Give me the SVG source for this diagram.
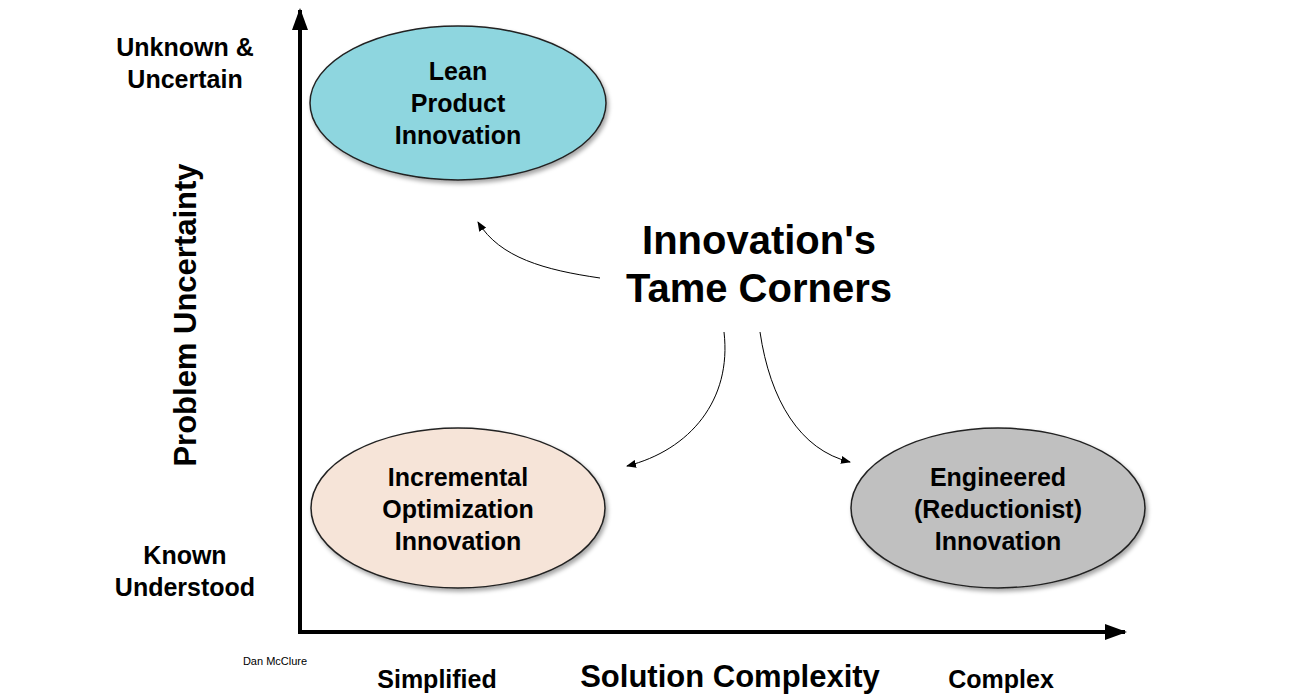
<svg xmlns="http://www.w3.org/2000/svg" width="1300" height="695" viewBox="0 0 1300 695">
<style>
text{font-family:"Liberation Sans",Arial,sans-serif;font-weight:bold;fill:#000;text-anchor:middle}
.n{font-size:25px}
.s{font-size:11px;font-weight:normal}
.e{stroke:#222;stroke-width:1.5}
.c{fill:none;stroke:#000;stroke-width:1}
</style>
<defs>
<marker id="ah" markerWidth="10" markerHeight="8" refX="9" refY="4" orient="auto" markerUnits="userSpaceOnUse"><path d="M0,0L10,4L0,8z" fill="#000"/></marker>
<marker id="big" markerWidth="22" markerHeight="16" refX="20" refY="8" orient="auto" markerUnits="userSpaceOnUse"><path d="M0,0L22,8L0,16z" fill="#000"/></marker>
<filter id="sh" x="-10%" y="-10%" width="130%" height="130%"><feDropShadow dx="2" dy="3" stdDeviation="2" flood-opacity="0.35"/></filter>
</defs>
<rect width="1300" height="695" fill="#fff"/>
<g id="axes">
<line x1="300" y1="632" x2="300" y2="10" stroke="#000" stroke-width="4" marker-end="url(#big)"/>
<line x1="298" y1="632" x2="1125" y2="632" stroke="#000" stroke-width="4" marker-end="url(#big)"/>
</g>
<g id="lean"><ellipse class="e" cx="458" cy="103" rx="148" ry="77" fill="#8ed6df" filter="url(#sh)"/>
<text class="n" x="458" y="80">Lean</text><text class="n" x="458" y="112">Product</text><text class="n" x="458" y="144">Innovation</text></g>
<g id="incremental"><ellipse class="e" cx="458" cy="508" rx="147" ry="80" fill="#f6e4d8" filter="url(#sh)"/>
<text class="n" x="458" y="486">Incremental</text><text class="n" x="458" y="518">Optimization</text><text class="n" x="458" y="550">Innovation</text></g>
<g id="engineered"><ellipse class="e" cx="998" cy="508" rx="147" ry="80" fill="#c0c0c0" filter="url(#sh)"/>
<text class="n" x="998" y="486">Engineered</text><text class="n" x="998" y="518">(Reductionist)</text><text class="n" x="998" y="550">Innovation</text></g>
<g id="title"><text x="759" y="254" font-size="40">Innovation's</text><text x="759" y="302" font-size="40">Tame Corners</text></g>
<g id="connectors">
<path class="c" d="M600,278 C545,270 500,258 478,222" marker-end="url(#ah)"/>
<path class="c" d="M724,332 C732,400 690,450 627,466" marker-end="url(#ah)"/>
<path class="c" d="M760,332 C770,400 800,450 850,462" marker-end="url(#ah)"/>
</g>
<g id="labels">
<text class="n" x="185" y="56">Unknown &amp;</text><text class="n" x="185" y="88">Uncertain</text>
<text class="n" x="185" y="564">Known</text><text class="n" x="185" y="596">Understood</text>
<text x="0" y="0" font-size="31" transform="translate(196,315) rotate(-90)">Problem Uncertainty</text>
<text x="730" y="687" font-size="31">Solution Complexity</text>
<text class="n" x="437" y="688">Simplified</text>
<text class="n" x="1001" y="688">Complex</text>
<text class="s" x="275" y="665">Dan McClure</text>
</g>
</svg>
